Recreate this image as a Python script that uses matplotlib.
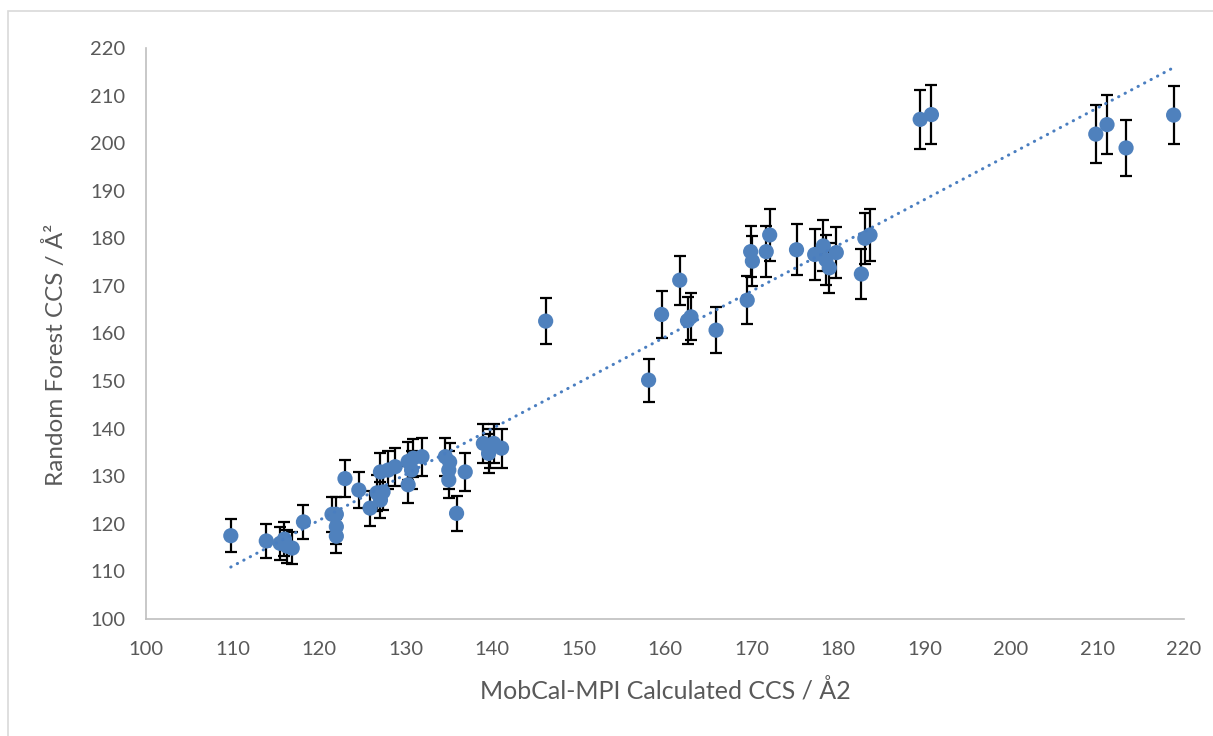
import numpy as np
import matplotlib
matplotlib.use("Agg")
import matplotlib.pyplot as plt
from matplotlib.patches import Rectangle

plt.rcParams["font.family"] = ["Lato", "DejaVu Sans"]

# MobCal-MPI calculated CCS vs random forest predicted CCS (Å²)
mobcal_ccs = [
    109.8, 113.9, 115.5, 116.0, 116.3, 116.9, 118.2, 121.5, 122.0, 122.0,
    122.0, 123.0, 124.6, 125.9, 126.7, 127.1, 127.4, 127.1, 128.0, 128.8,
    130.3, 130.9, 131.9, 130.3, 130.7, 134.6, 135.1, 135.0, 135.0, 136.9,
    135.9, 139.0, 139.8, 139.6, 140.2, 141.1, 146.2, 158.1, 159.6, 161.7,
    162.6, 163.0, 165.9, 169.5, 170.1, 169.9, 171.7, 172.1, 175.2, 177.3,
    178.3, 178.6, 179.0, 179.8, 182.7, 183.1, 183.7, 189.5, 190.8, 209.8,
    211.1, 213.3, 218.8,
]
rf_ccs = [
    117.5, 116.4, 115.9, 116.8, 115.3, 114.9, 120.4, 122.0, 122.0, 119.4,
    117.4, 129.5, 127.1, 123.3, 126.5, 125.0, 126.7, 130.9, 131.3, 132.0,
    133.1, 133.8, 134.1, 128.2, 131.3, 134.1, 133.0, 131.3, 129.2, 130.9,
    122.2, 136.9, 135.9, 134.8, 136.9, 135.9, 162.6, 150.2, 164.0, 171.2,
    162.7, 163.5, 160.7, 167.0, 175.2, 177.2, 177.2, 180.7, 177.6, 176.6,
    178.4, 175.5, 173.8, 177.0, 172.5, 180.0, 180.7, 205.0, 206.0, 201.9,
    203.9, 199.0, 205.9,
]
# percentage error bars on the predictions
err_pct = 3.0

x = np.array(mobcal_ccs)
y = np.array(rf_ccs)
yerr = y * err_pct / 100.0

fig = plt.figure(figsize=(12.13, 7.36), dpi=100)
ax = fig.add_axes([0.1204, 0.1590, 0.8557, 0.7758])

ax.errorbar(x, y, yerr=yerr, fmt="none", ecolor="black", elinewidth=1.6,
            capsize=4.5, capthick=1.6, zorder=2)
ax.scatter(x, y, s=120, color="#4F81BD", edgecolors="none", zorder=3)

# linear trendline
slope, intercept = np.polyfit(x, y, 1)
xs = np.array([x.min(), x.max()])
ax.plot(xs, slope * xs + intercept, color="#4A7EC0", lw=2.2,
        linestyle=(0, (0.1, 2.3)), dash_capstyle="round", zorder=4)

ax.set_xlim(100, 220)
ax.set_ylim(100, 220)
ax.set_xticks(np.arange(100, 221, 10))
ax.set_yticks(np.arange(100, 221, 10))

for side in ("top", "right"):
    ax.spines[side].set_visible(False)
for side in ("left", "bottom"):
    ax.spines[side].set_color("#BFBFBF")
    ax.spines[side].set_linewidth(1.2)

ax.tick_params(axis="both", length=0, labelsize=14.5, labelcolor="#595959")
ax.tick_params(axis="x", pad=16)
ax.tick_params(axis="y", pad=15)

ax.set_xlabel("MobCal-MPI Calculated CCS / Å2", fontsize=18, color="#595959")
ax.set_ylabel("Random Forest CCS / Å²", fontsize=17.5, color="#595959")
ax.xaxis.set_label_coords(0.5, -0.104)
ax.yaxis.set_label_coords(-0.076, 0.462)

# chart area border
fig.patches.append(Rectangle((8 / 1213, -0.1), 1.2, 1 - 11 / 736 + 0.1,
                             transform=fig.transFigure, fill=False,
                             edgecolor="#D9D9D9", lw=1.2))

fig.savefig("out.png", dpi=100)
